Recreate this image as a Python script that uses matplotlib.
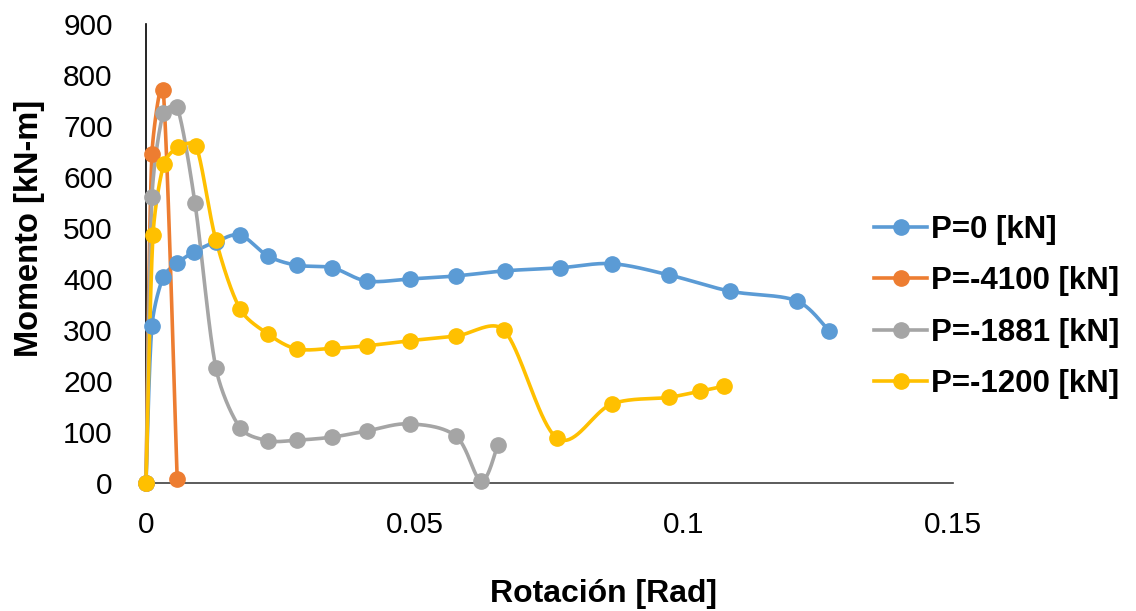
import numpy as np
import matplotlib.pyplot as plt

plt.rcParams['font.family'] = ['Liberation Sans', 'DejaVu Sans']

# Datos (rotacion [rad], momento [kN-m])
rot_p0 = [0, 0.0011, 0.0032, 0.0058, 0.0089, 0.0130, 0.0175, 0.0227, 0.0280, 0.0346,
          0.0410, 0.0490, 0.0576, 0.0667, 0.0770, 0.0866, 0.0972, 0.1086, 0.1210, 0.1270]
mom_p0 = [0, 308, 404, 431, 453, 473, 486, 445, 427, 422,
          396, 400, 406, 416, 422, 430, 408, 376, 357, 298]

rot_p4100 = [0, 0.0011, 0.0032, 0.0058]
mom_p4100 = [0, 645, 771, 8]

rot_p1881 = [0, 0.0011, 0.0032, 0.0058, 0.0091, 0.0130, 0.0175, 0.0227, 0.0280, 0.0346,
             0.0410, 0.0490, 0.0576, 0.0623, 0.0654]
mom_p1881 = [0, 561, 725, 737, 549, 225, 108, 83, 84, 90,
             102, 116, 92, 4, 75]

rot_p1200 = [0, 0.0013, 0.0033, 0.0060, 0.0093, 0.0130, 0.0175, 0.0227, 0.0280, 0.0346,
             0.0410, 0.0490, 0.0576, 0.0665, 0.0764, 0.0866, 0.0972, 0.1030, 0.1075]
mom_p1200 = [0, 486, 625, 659, 661, 476, 341, 292, 263, 264,
             269, 279, 288, 300, 88, 155, 168, 180, 190]

series = [
    ('P=0 [kN]', rot_p0, mom_p0, '#5B9BD5'),
    ('P=-4100 [kN]', rot_p4100, mom_p4100, '#ED7D31'),
    ('P=-1881 [kN]', rot_p1881, mom_p1881, '#A5A5A5'),
    ('P=-1200 [kN]', rot_p1200, mom_p1200, '#FFC000'),
]

XMAX, YMAX = 0.15, 900
W_PX, H_PX = 807, 459  # tamano del area de trazado en pixeles


def suavizar(x, y, n=40):
    # linea suavizada tipo Excel: Bezier, tangente Catmull-Rom limitada
    # al largo de cada tramo (se calcula en pixeles para no deformar)
    p = np.column_stack([np.asarray(x) / XMAX * W_PX, np.asarray(y) / YMAX * H_PX])
    ext = np.vstack([p[0], p, p[-1]])
    out = [p[0]]
    t = np.linspace(0, 1, n)[1:, None]
    for i in range(len(p) - 1):
        p0, p1, p2, p3 = ext[i], ext[i + 1], ext[i + 2], ext[i + 3]
        seg_len = np.linalg.norm(p2 - p1)
        t1 = (p2 - p0) / 6
        t2 = (p3 - p1) / 6
        lim = seg_len / 3
        if np.linalg.norm(t1) > lim:
            t1 = t1 / np.linalg.norm(t1) * lim
        if np.linalg.norm(t2) > lim:
            t2 = t2 / np.linalg.norm(t2) * lim
        c1 = p1 + t1
        c2 = p2 - t2
        seg = ((1 - t) ** 3) * p1 + 3 * ((1 - t) ** 2) * t * c1 + 3 * (1 - t) * t ** 2 * c2 + t ** 3 * p2
        out.extend(seg)
    out = np.array(out)
    return out[:, 0] / W_PX * XMAX, out[:, 1] / H_PX * YMAX


fig = plt.figure(figsize=(11.36, 6.11), dpi=100)
ax = fig.add_axes([146 / 1136, 1 - 483 / 611, W_PX / 1136, H_PX / 611])

for nombre, x, y, c in series:
    xs, ys = suavizar(x, y)
    ax.plot(xs, ys, color=c, lw=2.6, solid_capstyle='round', zorder=2, clip_on=False)
    ax.plot(x, y, 'o', color=c, ms=11, zorder=3, clip_on=False)
    ax.plot([], [], '-o', color=c, lw=2.6, ms=11, label=nombre)

ax.set_xlim(0, XMAX)
ax.set_ylim(0, YMAX)
ax.set_xticks([0, 0.05, 0.1, 0.15])
ax.set_xticklabels(['0', '0.05', '0.1', '0.15'])
ax.set_yticks(np.arange(0, 901, 100))
ax.tick_params(length=0, labelsize=21.5)
ax.tick_params(axis='y', pad=24)
ax.tick_params(axis='x', pad=20)
for s in ['top', 'right']:
    ax.spines[s].set_visible(False)
ax.spines['left'].set_color('black')
ax.spines['left'].set_linewidth(1.2)
ax.spines['bottom'].set_color('#404040')
ax.spines['bottom'].set_linewidth(1.2)
ax.spines['left'].set_zorder(1)
ax.spines['bottom'].set_zorder(1)
ax.patch.set_visible(False)

leg = fig.legend(loc='center left', bbox_to_anchor=(846 / 1136, 1 - 307 / 611),
                 frameon=False, prop={'size': 22.5, 'weight': 'bold'},
                 handlelength=1.7, handletextpad=0.13, labelspacing=0.68)

fig.text(30 / 1136, 1 - 228 / 611, 'Momento [kN-m]', rotation=90, fontsize=23.5,
         fontweight='bold', ha='center', va='center')
fig.text(603 / 1136, 1 - 594 / 611, 'Rotación [Rad]', fontsize=23,
         fontweight='bold', ha='center', va='center')

fig.savefig('out.png', dpi=100)
